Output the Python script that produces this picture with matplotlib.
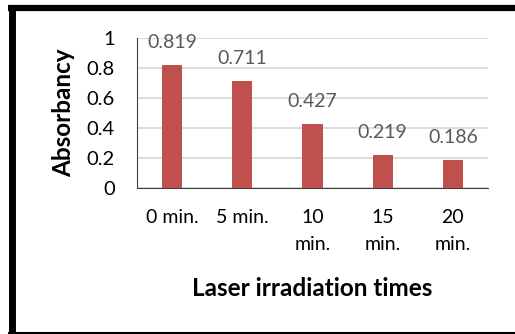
import matplotlib.pyplot as plt
from matplotlib.lines import Line2D

times = ["0 min.", "5 min.", "10\nmin.", "15\nmin.", "20\nmin."]
absorbancy = [0.819, 0.711, 0.427, 0.219, 0.186]
yticks = [0, 0.2, 0.4, 0.6, 0.8, 1]
ytick_labels = ["0", "0.2", "0.4", "0.6", "0.8", "1"]

plt.rcParams['font.family'] = ['Lato', 'DejaVu Sans']

fig = plt.figure(figsize=(5.15, 3.34), dpi=100)
ax = fig.add_axes([137/515, 1 - 188/334, 351/515, 150/334])

x = range(len(times))
ax.bar(x, absorbancy, width=0.29, color='#c0504d', zorder=3)
for i, v in enumerate(absorbancy):
    ax.annotate(f"{v}", (i, v), xytext=(0, 10), textcoords='offset points',
                ha='center', va='bottom', fontsize=14, color='#595959')

ax.set_xlim(-0.5, len(times) - 0.5)
ax.set_ylim(0, 1)
ax.set_yticks(yticks)
ax.set_yticklabels(ytick_labels, fontsize=14.5, color='#000000')
ax.set_xticks(list(x))
ax.set_xticklabels(times, fontsize=14, va='top', linespacing=1.75)
ax.tick_params(axis='x', length=0, pad=15)
ax.tick_params(axis='y', length=0, pad=16)
ax.yaxis.grid(True, color='#d9d9d9', linewidth=1.3, zorder=0)
for s in ['top', 'right']:
    ax.spines[s].set_visible(False)
ax.spines['left'].set_color('#404040')
ax.spines['bottom'].set_color('#404040')

ax.set_ylabel("Absorbancy", fontsize=17.5, fontweight='bold')
ax.yaxis.set_label_coords(-0.175, 0.5)
ax.set_xlabel("Laser irradiation times", fontsize=17.5, fontweight='bold', va='top')
ax.xaxis.set_label_coords(0.5, -0.59)

# outer frame of the pasted chart box
fig.lines.append(Line2D([8/515, 1], [1 - 8/334, 1 - 8/334], transform=fig.transFigure,
                        color='black', linewidth=4.5, solid_capstyle='butt'))
fig.lines.append(Line2D([11.5/515, 11.5/515], [1 - 5/334, 1/334], transform=fig.transFigure,
                        color='black', linewidth=5, solid_capstyle='butt'))
fig.lines.append(Line2D([8/515, 1], [1.2/334, 1.2/334], transform=fig.transFigure,
                        color='black', linewidth=1.5, solid_capstyle='butt'))

fig.savefig("out.png", dpi=100)
